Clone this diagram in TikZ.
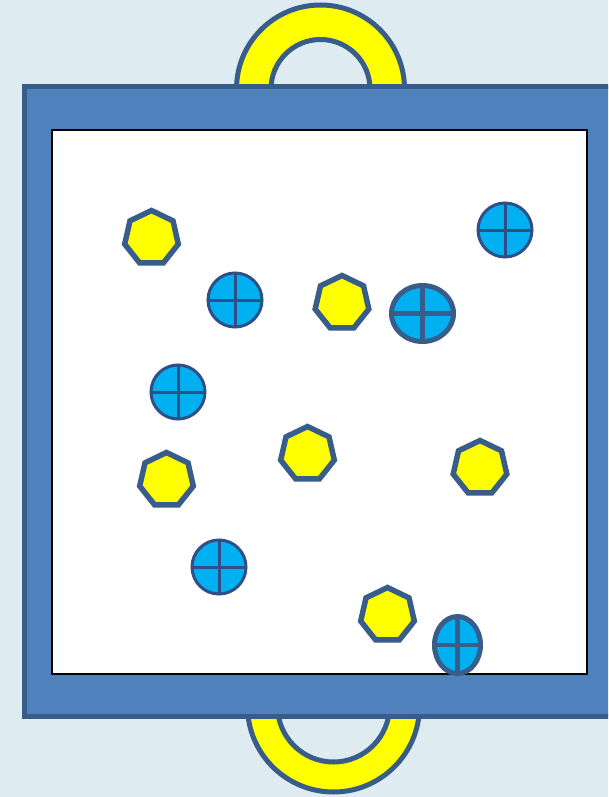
\documentclass[tikz,border=0pt]{standalone}
\usetikzlibrary{shapes.geometric}
\definecolor{bgc}{HTML}{DEEBF1}
\definecolor{framefill}{HTML}{4F81BD}
\definecolor{framestroke}{HTML}{385D8A}
\definecolor{navy}{HTML}{2F4F86}
\definecolor{cyanfill}{HTML}{00B0F0}
\definecolor{yel}{HTML}{FFFF00}
\tikzset{
  hepta/.style={regular polygon, regular polygon sides=7, minimum size=55pt, inner sep=0pt,
    draw=framestroke, line width=5.5pt, fill=yel},
  smallcross/.style={circle, minimum size=54pt, draw=navy, line width=3pt, fill=cyanfill, inner sep=0pt,
    path picture={\draw[navy, line width=3pt] (path picture bounding box.north) -- (path picture bounding box.south)
      (path picture bounding box.west) -- (path picture bounding box.east);}},
  thickcross/.style={ellipse, draw=framestroke, line width=5pt, fill=cyanfill, inner sep=0pt,
    path picture={\draw[framestroke, line width=4.5pt] (path picture bounding box.north) -- (path picture bounding box.south)
      (path picture bounding box.west) -- (path picture bounding box.east);}},
  handle/.style={draw=framestroke, line width=5pt, fill=yel, even odd rule},
}
\begin{document}
\begin{tikzpicture}[x=1pt,y=-1pt]
\useasboundingbox (0,0) rectangle (608,797);
\clip (0,0) rectangle (608,797);
\fill[bgc] (0,0) rectangle (608,797);
% handles
\coordinate (ht) at (320.5,89);
\coordinate (hb) at (333.5,706);
\path[handle] (ht) circle[radius=84] (ht) circle[radius=49.5];
\path[handle] (hb) circle[radius=86] (hb) circle[radius=56];
% frame
\draw[draw=framestroke, fill=framefill, line width=5pt] (24,86.5) rectangle (660,716);
\draw[black, fill=white, line width=1.3pt] (52,130) rectangle (587,674);
% heptagons
\node[hepta] (p1) at (151.5,238) {};
\node[hepta] (p2) at (342,303) {};
\node[hepta] (p3) at (307.5,454) {};
\node[hepta] (p4) at (166.5,480) {};
\node[hepta] (p5) at (480,468) {};
\node[hepta] (p6) at (387.5,615) {};
% circles
\node[smallcross] (c1) at (505,230) {};
\node[smallcross] (c2) at (235,300) {};
\node[smallcross] (c3) at (178,392) {};
\node[smallcross] (c4) at (219,567) {};
\node[thickcross, minimum width=62pt, minimum height=56pt] (c5) at (422.5,313.5) {};
\node[thickcross, minimum width=46pt, minimum height=57pt] (c6) at (457.5,645) {};
\end{tikzpicture}
\end{document}
